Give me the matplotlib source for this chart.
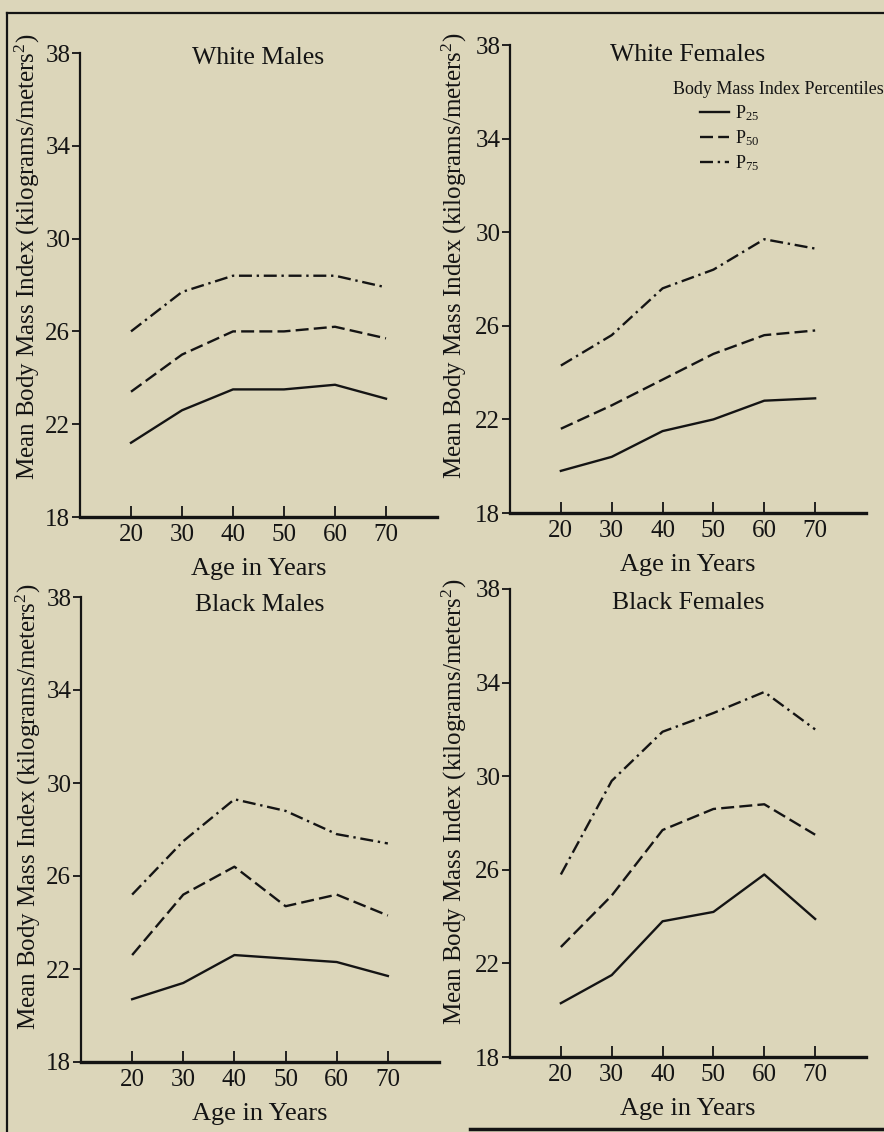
import matplotlib
matplotlib.use("Agg")
import matplotlib.pyplot as plt
from matplotlib.ticker import FixedLocator
from matplotlib.lines import Line2D

plt.rcParams['font.family'] = ['Liberation Serif', 'DejaVu Serif']
plt.rcParams['mathtext.fontset'] = 'custom'
plt.rcParams['mathtext.rm'] = 'Liberation Serif'
plt.rcParams['mathtext.it'] = 'Liberation Serif:italic'

ages = [20, 30, 40, 50, 60, 70]
yticks = [18, 22, 26, 30, 34, 38]

panel_titles = ["White Males", "White Females", "Black Males", "Black Females"]

p25 = {
    "White Males":   [21.2, 22.6, 23.5, 23.5, 23.7, 23.1],
    "White Females": [19.8, 20.4, 21.5, 22.0, 22.8, 22.9],
    "Black Males":   [20.7, 21.4, 22.6, 22.45, 22.3, 21.7],
    "Black Females": [20.3, 21.5, 23.8, 24.2, 25.8, 23.9],
}
p50 = {
    "White Males":   [23.4, 25.0, 26.0, 26.0, 26.2, 25.7],
    "White Females": [21.6, 22.6, 23.7, 24.8, 25.6, 25.8],
    "Black Males":   [22.6, 25.2, 26.4, 24.7, 25.2, 24.3],
    "Black Females": [22.7, 24.9, 27.7, 28.6, 28.8, 27.5],
}
p75 = {
    "White Males":   [26.0, 27.7, 28.4, 28.4, 28.4, 27.9],
    "White Females": [24.3, 25.6, 27.6, 28.4, 29.7, 29.3],
    "Black Males":   [25.2, 27.5, 29.3, 28.8, 27.8, 27.4],
    "Black Females": [25.8, 29.8, 31.9, 32.7, 33.6, 32.0],
}
series_labels = [r"P$_{25}$", r"P$_{50}$", r"P$_{75}$"]
legend_title = "Body Mass Index Percentiles"

BG = '#DCD6BA'
INK = '#141414'
W, H = 884, 1132
fig = plt.figure(figsize=(W / 100, H / 100), dpi=100, facecolor=BG)

# axes boxes in pixels: (left, top, right, bottom)
boxes = {
    "White Males":   (80, 53, 437, 517),
    "White Females": (510, 45, 866, 513),
    "Black Males":   (81, 597, 439, 1062),
    "Black Females": (510, 589, 866, 1057),
}
title_y = {"White Males": 0.99, "White Females": 0.978,
           "Black Males": 0.982, "Black Females": 0.97}
ylabel_y = {"White Males": 0.56, "White Females": 0.55,
            "Black Males": 0.55, "Black Females": 0.545}
ylabel_dx = {"White Males": 38, "White Females": 41,
             "Black Males": 38, "Black Females": 41}

styles = [
    dict(linestyle='-'),
    dict(linestyle=(0, (5.5, 2.2))),
    dict(linestyle=(0, (5.5, 2, 1, 2))),
]

for name in panel_titles:
    l, t, r, b = boxes[name]
    ax = fig.add_axes([l / W, 1 - b / H, (r - l) / W, (b - t) / H])
    ax.set_facecolor(BG)
    ax.set_xlim(10, 80)
    ax.set_ylim(18, 38)
    for vals, st in zip([p25[name], p50[name], p75[name]], styles):
        ax.plot(ages, vals, color=INK, lw=1.7, **st)
    for s in ['top', 'right']:
        ax.spines[s].set_visible(False)
    ax.spines['left'].set_linewidth(1.6)
    ax.spines['bottom'].set_linewidth(2.4)
    ax.spines['left'].set_color(INK)
    ax.spines['bottom'].set_color(INK)
    ax.set_xticks(ages)
    ax.set_yticks(yticks)
    ax.yaxis.set_minor_locator(FixedLocator([38]))
    ax.tick_params(axis='x', direction='in', length=8, width=1.3, colors=INK,
                   labelsize=18, pad=5)
    ax.tick_params(axis='y', which='major', direction='out', length=6, width=1.3,
                   colors=INK, labelsize=18, pad=1)
    ax.tick_params(axis='y', which='minor', direction='in', length=8, width=1.3,
                   colors=INK)
    ax.set_xlabel("Age in Years", fontsize=19, color=INK, labelpad=9)
    ax.set_ylabel(r"Mean Body Mass Index (kilograms/meters$^{2}$)", fontsize=18,
                  color=INK)
    w_px = r - l
    ax.yaxis.set_label_coords(-ylabel_dx[name] / w_px, ylabel_y[name])
    ax.text(0.5, title_y[name], name, transform=ax.transAxes, ha='center',
            va='center', fontsize=18.5, color=INK)
    if name == "White Females":
        ax.text((673 - l) / w_px, 1 - (89 - t) / (b - t), legend_title,
                transform=ax.transAxes, ha='left', va='center', fontsize=13,
                color=INK)
        handles = [Line2D([0], [0], color=INK, lw=1.7, **st) for st in styles]
        leg = ax.legend(handles, series_labels, loc='upper left',
                        bbox_to_anchor=((700 - l) / w_px, 1 - (103 - t) / (b - t)),
                        frameon=False, fontsize=13, handlelength=1.6,
                        handletextpad=0.35, labelspacing=0.3, borderpad=0,
                        borderaxespad=0)
        for tx in leg.get_texts():
            tx.set_color(INK)

# page border lines
fig.add_artist(Line2D([7 / W, 1], [1 - 13 / H, 1 - 13 / H], color=INK, lw=1.6))
fig.add_artist(Line2D([7 / W, 7 / W], [0, 1 - 13 / H], color=INK, lw=1.6))
fig.add_artist(Line2D([470 / W, 1], [1 - 1129 / H, 1 - 1129 / H], color=INK, lw=2.5))

fig.savefig("out.png", dpi=100, facecolor=BG)
